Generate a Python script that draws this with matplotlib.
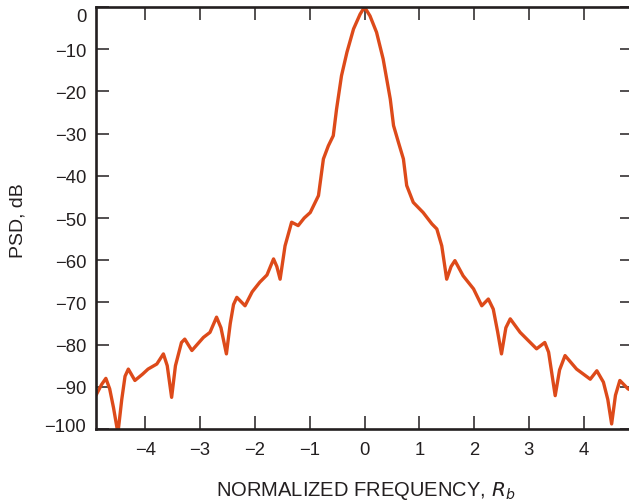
import matplotlib
matplotlib.use("Agg")
import matplotlib.pyplot as plt
import matplotlib.transforms as mtransforms

# Normalized frequency (x R_b) and PSD (dB)
freq = [-4.90, -4.80, -4.72, -4.65, -4.58, -4.50, -4.43, -4.37, -4.31, -4.19,
        -4.05, -3.95, -3.79, -3.67, -3.60, -3.52, -3.45, -3.34, -3.28, -3.15,
        -2.94, -2.82, -2.70, -2.62, -2.52, -2.45, -2.39, -2.33, -2.18, -2.05,
        -1.91, -1.78, -1.66, -1.60, -1.54, -1.45, -1.33, -1.21, -1.10, -0.99,
        -0.84, -0.75, -0.66, -0.57, -0.51, -0.42, -0.32, -0.20, -0.08, 0.00,
        0.10, 0.22, 0.34, 0.47, 0.53, 0.62, 0.71, 0.77, 0.89, 1.07,
        1.23, 1.32, 1.41, 1.50, 1.58, 1.65, 1.80, 1.99, 2.14, 2.26,
        2.35, 2.43, 2.50, 2.58, 2.66, 2.84, 3.14, 3.29, 3.36, 3.48,
        3.56, 3.66, 3.87, 4.12, 4.24, 4.36, 4.44, 4.51, 4.58, 4.66,
        4.81, 4.90]
psd = [-92.0, -89.5, -88.0, -90.5, -95.0, -101.0, -93.0, -87.5, -85.8, -88.5,
       -87.0, -85.8, -84.6, -82.2, -85.0, -92.5, -85.0, -79.5, -78.7, -81.4,
       -78.3, -77.1, -73.5, -76.0, -82.2, -75.0, -70.5, -68.8, -70.8, -67.5,
       -65.2, -63.5, -59.7, -61.5, -64.5, -56.6, -51.0, -51.8, -50.0, -48.7,
       -44.7, -36.0, -32.9, -30.5, -24.2, -16.3, -10.7, -5.2, -1.7, 0.0,
       -2.1, -6.0, -12.3, -21.8, -28.1, -32.1, -36.0, -42.3, -46.3, -48.7,
       -51.4, -52.6, -56.6, -64.5, -61.5, -60.1, -63.7, -66.8, -70.8, -69.2,
       -71.6, -77.0, -82.2, -76.0, -73.9, -77.1, -81.0, -79.5, -81.8, -92.1,
       -86.0, -82.6, -85.8, -88.2, -86.2, -88.9, -93.0, -98.8, -92.0, -88.5,
       -90.5, -91.0]

xticks = [-4, -3, -2, -1, 0, 1, 2, 3, 4]
yticks = [0, -10, -20, -30, -40, -50, -60, -70, -80, -90, -100]

plt.rcParams['font.family'] = ['Liberation Sans', 'DejaVu Sans']
W, H = 629, 502
fig = plt.figure(figsize=(W / 100, H / 100), dpi=100)
ax = fig.add_axes([96 / W, 72 / H, 537 / W, 422 / H])

ax.plot(freq, psd, color='#DD4A1A', linewidth=2.4, solid_joinstyle='round',
        solid_capstyle='round')

ax.set_xlim(-4.9, 4.9)
ax.set_ylim(-100, 0)
ax.set_xticks(xticks)
ax.set_xticklabels(['\u2212%d' % abs(v) if v < 0 else '%d' % v for v in xticks])
ax.set_yticks(yticks)
ax.set_yticklabels(['\u2212%d' % abs(v) if v < 0 else '%d' % v for v in yticks])

spine_col = '#231f20'
for s in ax.spines.values():
    s.set_linewidth(1.9)
    s.set_color(spine_col)

ax.tick_params(axis='both', which='major', direction='in', length=9.5, width=1.1,
               color=spine_col, labelsize=13.3, labelcolor=spine_col,
               top=True, right=True)
ax.tick_params(axis='y', pad=7)
ax.tick_params(axis='x', pad=9)

# shift extreme y labels as in the reference
labels = ax.get_yticklabels()
labels[0].set_transform(labels[0].get_transform() +
                        mtransforms.ScaledTranslation(0, -8 / 100, fig.dpi_scale_trans))
labels[-1].set_transform(labels[-1].get_transform() +
                         mtransforms.ScaledTranslation(0, 5 / 100, fig.dpi_scale_trans))

fig.text(18 / W, 1 - 221 / H, 'PSD, dB', rotation=90, ha='center', va='center',
         fontsize=14, color=spine_col)
fig.text(366 / W, 1 - 491 / H, 'NORMALIZED FREQUENCY, $\\mathit{R_b}$',
         ha='center', va='center', fontsize=14.5, color=spine_col)

fig.savefig('out.png', dpi=100)
